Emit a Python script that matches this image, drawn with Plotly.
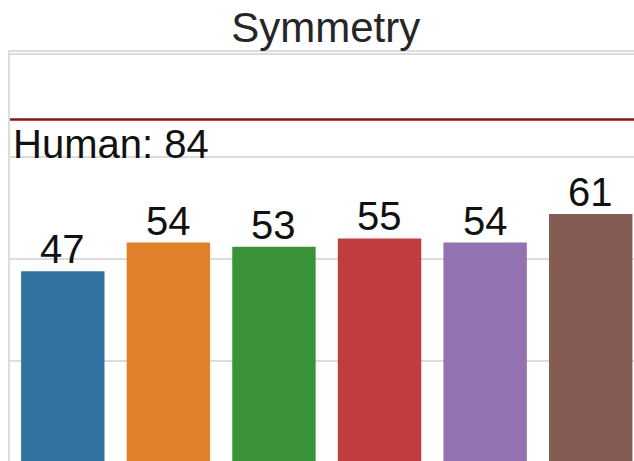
import plotly.graph_objects as go

# Symmetry task scores per model (tick labels are cropped out of the reference)
models = ["Model 1", "Model 2", "Model 3", "Model 4", "Model 5", "Model 6"]
scores = [47, 54, 53, 55, 54, 61]
bar_colors = ["#3274A1", "#E1812C", "#3A923A", "#C03D3E", "#9372B2", "#845B53"]
human_score = 84
y_ticks = [25, 50, 75, 100]

FONT = "Liberation Sans, Arial, sans-serif"

fig = go.Figure()
fig.add_trace(go.Bar(x=models, y=scores, marker_color=bar_colors, width=0.79,
                     marker_line_width=0, showlegend=False, hoverinfo="skip"))

# value labels above bars
for m, s in zip(models, scores):
    fig.add_annotation(x=m, y=s, text=str(s), showarrow=False, yanchor="bottom",
                       yshift=-2, font=dict(family=FONT, size=40, color="#111111"))

# human baseline
fig.add_hline(y=human_score, line_color="#8B1414", line_width=2.5)
fig.add_annotation(xref="paper", x=0.0, y=human_score, text=f"Human: {human_score}",
                   showarrow=False, xanchor="left", yanchor="top", xshift=0.5, yshift=0,
                   font=dict(family=FONT, size=40, color="#111111"))

fig.update_layout(
    width=634, height=461,
    margin=dict(l=10, r=0, t=52, b=0),
    plot_bgcolor="white", paper_bgcolor="white",
    title=dict(text="Symmetry", x=0.506, xref="paper", xanchor="center", y=0.972, yanchor="top",
               font=dict(family=FONT, size=42, color="#262626")),
)
# the reference is a crop: the plot runs past the right and bottom edges
fig.update_xaxes(range=[-0.5, 5.41], side="top", showticklabels=False, ticks="", showgrid=False,
                 zeroline=False, showline=True, linecolor="#DCDCDC", linewidth=1.5)
fig.update_yaxes(range=[0.7, 100.5], tickvals=y_ticks, showticklabels=False, ticks="",
                 showgrid=True, gridcolor="#DCDCDC", gridwidth=1.5, zeroline=False,
                 showline=True, linecolor="#DCDCDC", linewidth=1.5)

fig.write_html("out.html", config={"displayModeBar": False},
               post_script="document.body.style.margin='0';")
